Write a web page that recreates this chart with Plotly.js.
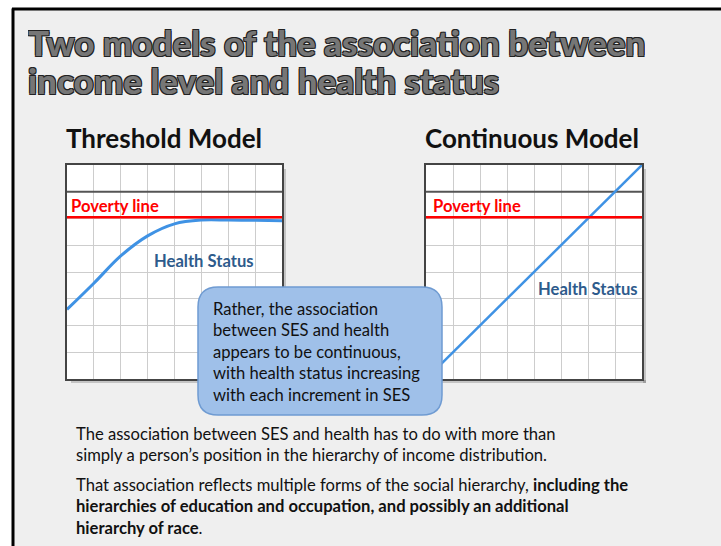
<!DOCTYPE html>
<html><head><meta charset="utf-8">
<script src="https://cdn.plot.ly/plotly-3.0.1.min.js"></script>
<style>html,body{margin:0;padding:0;background:#fff;}#chart{width:721px;height:546px;}</style>
</head><body><div id="chart"></div>
<script>
// ---- data ----
const gridX = [0, 1, 2, 3, 4, 5, 6, 7, 8];
const thresholdHealth = [2.6, 3.58, 4.6, 5.35, 5.8, 5.94, 5.94, 5.93, 5.92];
const continuousX = [0, 8];
const continuousHealth = [0, 8];
const povertyX = [0, 8];
const povertyLevel = [6.05, 6.05];
const upperLine = 7;

const W = 721, H = 546;
const px = x => x / W, py = y => 1 - y / H;

const blue = '#3f92e4';
const red = '#ff0000';
const txtBlue = '#2e5b8c';

const traces = [
  {x: gridX, y: thresholdHealth, xaxis: 'x', yaxis: 'y', mode: 'lines', line: {color: blue, width: 3, shape: 'spline', smoothing: 1}, hoverinfo: 'skip'},
  {x: povertyX, y: povertyLevel, xaxis: 'x', yaxis: 'y', mode: 'lines', line: {color: red, width: 2.5}, hoverinfo: 'skip'},
  {x: continuousX, y: continuousHealth, xaxis: 'x2', yaxis: 'y2', mode: 'lines', line: {color: blue, width: 2.5}, hoverinfo: 'skip'},
  {x: povertyX, y: povertyLevel, xaxis: 'x2', yaxis: 'y2', mode: 'lines', line: {color: red, width: 2.5}, hoverinfo: 'skip'}
];

function ax(domain, anchor) {
  return {domain: domain, anchor: anchor, range: [0, 8], dtick: 1, tick0: 0, showticklabels: false, ticks: '',
    showgrid: true, gridcolor: '#cdcdcd', gridwidth: 1, zeroline: false,
    showline: true, mirror: true, linecolor: '#444', linewidth: 2, fixedrange: true};
}

function roundRect(x0, y0, x1, y1, r) {
  const rx = r / W, ry = r / H;
  const X0 = px(x0), X1 = px(x1), Y0 = py(y0), Y1 = py(y1);
  return `M ${X0 + rx},${Y0} L ${X1 - rx},${Y0} Q ${X1},${Y0} ${X1},${Y0 - ry} L ${X1},${Y1 + ry} Q ${X1},${Y1} ${X1 - rx},${Y1} L ${X0 + rx},${Y1} Q ${X0},${Y1} ${X0},${Y1 + ry} L ${X0},${Y0 - ry} Q ${X0},${Y0} ${X0 + rx},${Y0} Z`;
}

const shapes = [
  {type: 'rect', xref: 'paper', yref: 'paper', x0: 0, x1: px(12), y0: 0, y1: 1, fillcolor: '#ffffff', line: {width: 0}, layer: 'below'},
  {type: 'rect', xref: 'paper', yref: 'paper', x0: 0, x1: 1, y0: py(8), y1: 1, fillcolor: '#ffffff', line: {width: 0}, layer: 'below'},
  {type: 'line', xref: 'paper', yref: 'paper', x0: px(13), x1: px(13), y0: 0, y1: py(8.5), line: {color: '#000', width: 3}, layer: 'below'},
  {type: 'line', xref: 'paper', yref: 'paper', x0: px(12), x1: 1, y0: py(9), y1: py(9), line: {color: '#000', width: 3}, layer: 'below'},
  {type: 'rect', xref: 'paper', yref: 'paper', x0: px(283), x1: px(286), y0: py(383), y1: py(169), fillcolor: 'rgba(0,0,0,0.18)', line: {width: 0}, layer: 'below'},
  {type: 'rect', xref: 'paper', yref: 'paper', x0: px(71), x1: px(286), y0: py(383), y1: py(380), fillcolor: 'rgba(0,0,0,0.18)', line: {width: 0}, layer: 'below'},
  {type: 'rect', xref: 'paper', yref: 'paper', x0: px(643), x1: px(646), y0: py(383), y1: py(169), fillcolor: 'rgba(0,0,0,0.18)', line: {width: 0}, layer: 'below'},
  {type: 'rect', xref: 'paper', yref: 'paper', x0: px(430), x1: px(646), y0: py(383), y1: py(380), fillcolor: 'rgba(0,0,0,0.18)', line: {width: 0}, layer: 'below'},
  {type: 'line', xref: 'x', yref: 'y', x0: 0, x1: 8, y0: upperLine, y1: upperLine, line: {color: '#555', width: 2}, layer: 'between'},
  {type: 'line', xref: 'x2', yref: 'y2', x0: 0, x1: 8, y0: upperLine, y1: upperLine, line: {color: '#555', width: 2}, layer: 'between'},
  {type: 'path', xref: 'paper', yref: 'paper', path: roundRect(198, 287, 442, 415, 20), fillcolor: '#9fc0e9', line: {color: '#6f9bd2', width: 1.5}, layer: 'above'}
];

const bodyFont = 'Lato, "Open Sans", sans-serif';
function note(text, x, y, size, color, opts) {
  return Object.assign({text: text, xref: 'paper', yref: 'paper', x: px(x), y: py(y), xanchor: 'left', yanchor: 'middle',
    showarrow: false, font: {family: bodyFont, size: size, color: color}}, opts || {});
}

const titleFont = {family: 'Lato, sans-serif', size: 35, weight: 900, color: '#767676',
  shadow: '1px 1px 0 #222, -1px -1px 0 #222, 1px -1px 0 #222, -1px 1px 0 #222'};

const bs = 16.6;
const annotations = [
  Object.assign(note('Two models of the association between', 26, 42, 35, '#777'), {font: titleFont, height: 35}),
  Object.assign(note('income level and health status', 26, 79, 35, '#777'), {font: titleFont, height: 35}),
  note('<b>Threshold Model</b>', 64, 138, 26, '#111'),
  note('<b>Continuous Model</b>', 423, 138, 26, '#111'),
  note('<b>Poverty line</b>', 69, 206, bs, red),
  note('<b>Poverty line</b>', 431, 206, bs, red),
  note('<b>Health Status</b>', 152, 261, bs, txtBlue),
  note('<b>Health Status</b>', 536, 289, bs, txtBlue),
  note('Rather, the association', 211, 309, bs, '#111'),
  note('between SES and health', 211, 330, bs, '#111'),
  note('appears to be continuous,', 211, 352, bs, '#111'),
  note('with health status increasing', 211, 373, bs, '#111'),
  note('with each increment in SES', 211, 395, bs, '#111'),
  note('The association between SES and health has to do with more than', 74, 434, bs, '#111'),
  note('simply a person\u2019s position in the hierarchy of income distribution.', 74, 455, bs, '#111'),
  note('That association reflects multiple forms of the social hierarchy, <b>including the</b>', 74, 485, bs, '#111'),
  note('<b>hierarchies of education and occupation, and possibly an additional</b>', 74, 506, bs, '#111'),
  note('<b>hierarchy of race</b>.', 74, 528, bs, '#111')
];

const layout = {
  width: W, height: H, margin: {l: 0, r: 0, t: 0, b: 0},
  paper_bgcolor: '#efefef', plot_bgcolor: '#ffffff', showlegend: false,
  xaxis: ax([px(67), px(282)], 'y'),
  yaxis: ax([py(379), py(165)], 'x'),
  xaxis2: ax([px(426), px(642)], 'y2'),
  yaxis2: ax([py(379), py(165)], 'x2'),
  shapes: shapes, annotations: annotations
};

Plotly.newPlot('chart', traces, layout, {displayModeBar: false, staticPlot: true});
</script></body></html>
